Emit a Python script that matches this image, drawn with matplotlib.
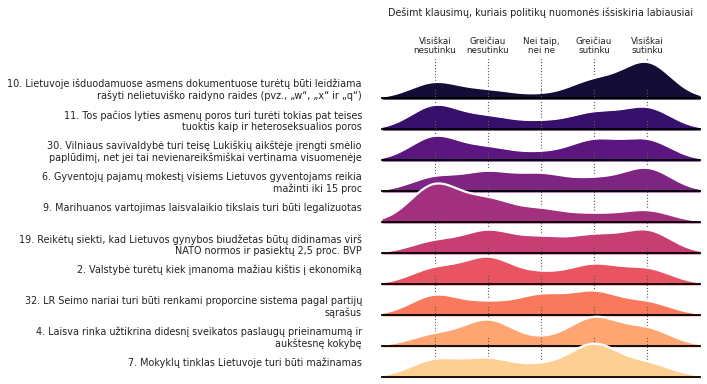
import numpy as np
import matplotlib
matplotlib.use("Agg")
from matplotlib import pyplot as plt

# klausimai (iš viršaus į apačią)
questions = [
    "10. Lietuvoje išduodamuose asmens dokumentuose turėtų būti leidžiama\nrašyti nelietuviško raidyno raides (pvz., „w“, „x“ ir „q“)",
    "11. Tos pačios lyties asmenų poros turi turėti tokias pat teises\ntuoktis kaip ir heteroseksualios poros",
    "30. Vilniaus savivaldybė turi teisę Lukiškių aikštėje įrengti smėlio\npaplūdimį, net jei tai nevienareikšmiškai vertinama visuomenėje",
    "6. Gyventojų pajamų mokestį visiems Lietuvos gyventojams reikia\nmažinti iki 15 proc",
    "9. Marihuanos vartojimas laisvalaikio tikslais turi būti legalizuotas",
    "19. Reikėtų siekti, kad Lietuvos gynybos biudžetas būtų didinamas virš\nNATO normos ir pasiektų 2,5 proc. BVP",
    "2. Valstybė turėtų kiek įmanoma mažiau kištis į ekonomiką",
    "32. LR Seimo nariai turi būti renkami proporcine sistema pagal partijų\nsąrašus",
    "4. Laisva rinka užtikrina didesnį sveikatos paslaugų prieinamumą ir\naukštesnę kokybę",
    "7. Mokyklų tinklas Lietuvoje turi būti mažinamas",
]

answers = [1, 2, 3, 4, 5]
answer_labels = ["Visiškai\nnesutinku", "Greičiau\nnesutinku", "Nei taip,\nnei ne",
                 "Greičiau\nsutinku", "Visiškai\nsutinku"]

# atsakymų svoriai kiekvienam klausimui (1..5)
w_q10 = [15.3, 7.3, 2.8, 16.5, 34.5]
w_q11 = [23, 11.3, 6.6, 15.1, 20.6]
w_q30 = [23, 11.3, 6.3, 18.7, 19.3]
w_q6 = [13.4, 17.4, 15.5, 10.6, 22]
w_q9 = [36.1, 20.6, 11.5, 7, 11]
w_q19 = [11.1, 20.8, 13.7, 15.8, 21.6]
w_q2 = [14.7, 24.8, 9.1, 17.9, 14.4]
w_q32 = [19, 10.6, 18.1, 21.3, 12]
w_q4 = [10.5, 24.6, 5.3, 26.7, 16.3]
w_q7 = [16.2, 16.5, 9.7, 30.8, 12.5]
weights = [w_q10, w_q11, w_q30, w_q6, w_q9, w_q19, w_q2, w_q32, w_q4, w_q7]

bw = 0.46
xs = np.linspace(0, 6, 400)


def kde(w):
    w = np.asarray(w, dtype=float)
    a = np.asarray(answers, dtype=float)
    return (w[None, :] * np.exp(-(xs[:, None] - a[None, :]) ** 2 / (2 * bw ** 2))).sum(axis=1)


W, Hfig = 707, 384
fig = plt.figure(figsize=(W / 100, Hfig / 100), dpi=100)
colors = plt.cm.magma(np.linspace(0.1, 0.9, len(questions)))

left, right = 382, 700
first_base, step, row_h = 98, 30.95, 40
line_px = 12

for i, (q, w) in enumerate(zip(questions, weights)):
    base = first_base + i * step
    ax = fig.add_axes([left / W, 1 - base / Hfig, (right - left) / W, row_h / Hfig])
    ax.patch.set_alpha(0)
    ax.set_xlim(0, 6)
    ax.set_ylim(0, row_h)
    for s in ax.spines.values():
        s.set_visible(False)
    ax.set_yticks([])

    y = kde(w)
    ax.vlines(answers, 0, row_h, colors='0.35', linestyles=':', linewidth=0.8, zorder=1)
    ax.fill_between(xs, -1.2, y, color=colors[i], zorder=2, clip_on=False, linewidth=0)
    ax.plot(xs, y, color='white', linewidth=1.6, zorder=3, clip_on=False)
    ax.plot([0, 6], [0, 0], color='black', linewidth=1.3, zorder=4, clip_on=False)

    nlines = q.count("\n") + 1
    ax.text(-0.063, (11 - line_px * (nlines - 1)) / row_h, q, transform=ax.transAxes,
            ha='right', va='baseline', fontsize=6.9, color='#222222', linespacing=1.15)

    if i == 0:
        ax.xaxis.tick_top()
        ax.set_xticks(answers)
        ax.set_xticklabels(answer_labels, fontsize=6.3, color='#222222', linespacing=1.1)
        ax.tick_params(axis='x', length=0, pad=2)
        ax.set_title("Dešimt klausimų, kuriais politikų nuomonės išsiskiria labiausiai",
                     fontsize=6.9, color='#222222', pad=30)
    else:
        ax.set_xticks([])

fig.savefig("out.png", dpi=100)
